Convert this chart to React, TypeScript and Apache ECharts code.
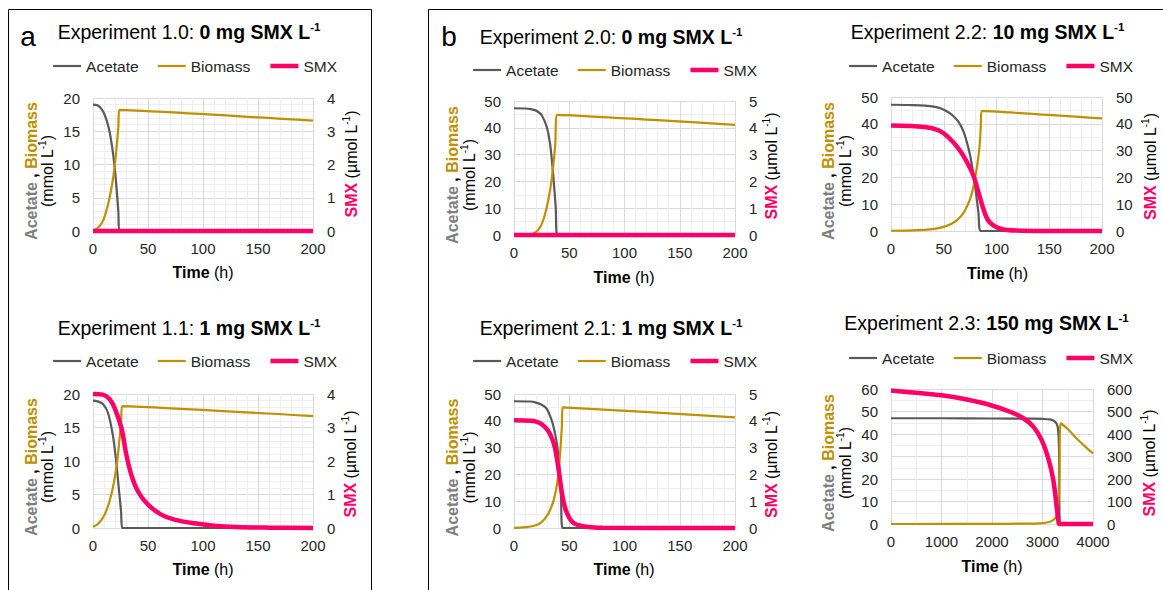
import React, { useEffect, useRef } from "react";
import * as echarts from "echarts";

const FONT = "'Liberation Sans', Arial, Helvetica, sans-serif";
const C_ACET = "#595959";
const C_BIO = "#BF9000";
const C_SMX = "#FF0066";
const TXT = "#262626";

const seriesNames = ["Acetate", "Biomass", "SMX"];

// ---------- Experiment 1.0 : 0 mg SMX/L ----------
const e10AcetateT = [0, 4, 8, 11, 14, 16.5, 18.5, 20, 21.5, 23, 24, 200];
const e10Acetate = [19.0, 18.9, 18.3, 17.3, 15.7, 13.6, 11.3, 9.1, 6.3, 3.0, 0, 0];
const e10BiomassT = [0, 4, 8, 11, 14, 16.5, 18.5, 20, 21.5, 23, 24, 200];
const e10Biomass = [0.1, 0.4, 1.2, 2.4, 4.2, 6.2, 8.2, 10.2, 12.7, 15.5, 18.2, 16.6];
const e10SmxT = [0, 200];
const e10Smx = [0, 0];

// ---------- Experiment 1.1 : 1 mg SMX/L ----------
const e11AcetateT = [0, 4, 9, 13.6, 18, 21, 24, 25.5, 26.7, 200];
const e11Acetate = [19.0, 18.9, 18.5, 17.2, 13.9, 10.0, 5.0, 2.5, 0, 0];
const e11BiomassT = [0, 4.5, 10.6, 16.7, 21.2, 24.2, 25.5, 26.7, 200];
const e11Biomass = [0.2, 0.6, 2.0, 5.0, 9.0, 13.4, 15.8, 18.2, 16.7];
const e11SmxT = [0, 9, 15, 19.7, 25.8, 30.3, 34.8, 40.9, 50, 62, 74, 92, 110, 130, 160, 200];
const e11Smx = [4.0, 3.98, 3.85, 3.58, 2.99, 2.19, 1.59, 1.09, 0.7, 0.4, 0.25, 0.14, 0.07, 0.03, 0.01, 0];

// ---------- Experiment 2.0 : 0 mg SMX/L ----------
const e20AcetateT = [0, 10, 15, 19, 22, 25, 29.6, 32.6, 35.6, 37.7, 39.2, 200];
const e20Acetate = [47.3, 47.2, 47.0, 46.6, 45.9, 44.8, 40.4, 34.2, 21.8, 10.6, 0, 0];
const e20BiomassT = [0, 10, 16, 22, 26.5, 31, 34, 37.2, 39.2, 200];
const e20Biomass = [0, 0.02, 0.3, 1.9, 5.6, 13, 20.5, 33, 44.8, 41.1];
const e20SmxT = [0, 200];
const e20Smx = [0, 0];

// ---------- Experiment 2.1 : 1 mg SMX/L ----------
const e21AcetateT = [0, 15, 20, 25, 29, 32, 35, 37, 39, 41, 42.5, 44, 200];
const e21Acetate = [47.3, 47.2, 46.8, 46.0, 44.8, 42.5, 39.0, 35.5, 31.0, 23.0, 12.0, 0, 0];
const e21BiomassT = [0, 10, 20, 25, 30, 33, 36, 39, 41, 43.3, 44, 200];
const e21Biomass = [0.05, 0.3, 1.0, 2.2, 4.6, 7.0, 10.5, 16.5, 24.0, 37.8, 45.0, 41.3];
const e21SmxT = [0, 15, 20, 25, 29, 32, 35, 37, 39, 41, 43, 45, 47, 50, 53, 57, 62, 70, 80, 200];
const e21Smx = [4.02, 4.0, 3.97, 3.88, 3.72, 3.55, 3.28, 3.0, 2.55, 2.0, 1.4, 0.95, 0.65, 0.38, 0.22, 0.12, 0.07, 0.03, 0.01, 0];

// ---------- Experiment 2.2 : 10 mg SMX/L ----------
const e22AcetateT = [0, 20, 32, 41.7, 48, 54, 59, 64, 67, 70, 75, 79.6, 82.8, 85.3, 200];
const e22Acetate = [47.1, 47.0, 46.8, 46.3, 45.6, 44.4, 42.9, 40.7, 38.6, 35.7, 28.2, 17.0, 7.1, 0, 0];
const e22BiomassT = [0, 26, 45, 57.5, 67, 75, 79.6, 83.4, 85, 86, 200];
const e22Biomass = [0.1, 0.3, 1.1, 2.7, 5.8, 12.0, 19.5, 29.5, 38.0, 44.8, 42.0];
const e22SmxT = [0, 32, 45, 54, 64, 72, 78, 82.8, 87.5, 92, 97, 103, 110, 125, 150, 200];
const e22Smx = [39.4, 38.8, 37.6, 35.1, 30.7, 25.7, 20.8, 14.6, 8.3, 4.0, 2.1, 1.0, 0.4, 0.1, 0, 0];

// ---------- Experiment 2.3 : 150 mg SMX/L ----------
const e23AcetateT = [0, 1000, 2000, 2800, 3000, 3148, 3247, 3300, 3326, 3346, 4000];
const e23Acetate = [47.0, 47.0, 46.9, 46.8, 46.7, 46.5, 45.5, 43.3, 34.0, 0, 0];
const e23BiomassT = [0, 2000, 2600, 2950, 3148, 3247, 3300, 3333, 3360, 3500, 3676, 3850, 4000];
const e23Biomass = [0, 0.05, 0.15, 0.3, 1.0, 2.5, 5.5, 19.5, 44.7, 42.2, 38.0, 34.3, 31.4];
const e23SmxT = [0, 500, 1000, 1500, 1960, 2356, 2620, 2818, 2983, 3115, 3214, 3280, 3313, 3333, 4000];
const e23Smx = [593, 583, 572, 553, 529, 499, 470, 433, 373, 292, 195, 77, 18, 0, 0];

const zip = (t: number[], v: number[]) => t.map((x, i) => [x, v[i]]);

type Panel = {
  label: string;
  bold: string;
  grid: { left: number; top: number; width: number; height: number };
  x: [number, number, number];
  yl: [number, number, number];
  yr: [number, number];
  acetate: number[][];
  biomass: number[][];
  smx: number[][];
  titleX: number;
  titleY: number;
  legendLeft: number;
  legendY: number;
  yn1X: number;
  yn2X: number;
  ynY: number;
  rnX: number;
  rnY: number;
  timeX: number;
  timeY: number;
};

const panels: Panel[] = [
  {
    label: "Experiment 1.0:", bold: "0 mg SMX L",
    grid: { left: 93, top: 98, width: 220, height: 133 },
    x: [200, 50, 5], yl: [20, 5, 5], yr: [4, 1],
    acetate: zip(e10AcetateT, e10Acetate), biomass: zip(e10BiomassT, e10Biomass), smx: zip(e10SmxT, e10Smx),
    titleX: 189, titleY: 31.5, legendLeft: 52, legendY: 67,
    yn1X: 31, yn2X: 47.5, ynY: 171, rnX: 351, rnY: 164, timeX: 203, timeY: 272,
  },
  {
    label: "Experiment 1.1:", bold: "1 mg SMX L",
    grid: { left: 93, top: 394, width: 220, height: 134 },
    x: [200, 50, 5], yl: [20, 5, 5], yr: [4, 1],
    acetate: zip(e11AcetateT, e11Acetate), biomass: zip(e11BiomassT, e11Biomass), smx: zip(e11SmxT, e11Smx),
    titleX: 189, titleY: 327.5, legendLeft: 52, legendY: 362,
    yn1X: 31, yn2X: 47.5, ynY: 467, rnX: 350, rnY: 464, timeX: 203, timeY: 569,
  },
  {
    label: "Experiment 2.0:", bold: "0 mg SMX L",
    grid: { left: 514, top: 101, width: 221, height: 134 },
    x: [200, 50, 5], yl: [50, 10, 2], yr: [5, 1],
    acetate: zip(e20AcetateT, e20Acetate), biomass: zip(e20BiomassT, e20Biomass), smx: zip(e20SmxT, e20Smx),
    titleX: 611, titleY: 36.5, legendLeft: 472, legendY: 71,
    yn1X: 452.5, yn2X: 469, ynY: 175, rnX: 771.5, rnY: 166, timeX: 624, timeY: 277,
  },
  {
    label: "Experiment 2.1:", bold: "1 mg SMX L",
    grid: { left: 514, top: 394, width: 221, height: 134 },
    x: [200, 50, 5], yl: [50, 10, 2], yr: [5, 1],
    acetate: zip(e21AcetateT, e21Acetate), biomass: zip(e21BiomassT, e21Biomass), smx: zip(e21SmxT, e21Smx),
    titleX: 611, titleY: 327.5, legendLeft: 472, legendY: 362,
    yn1X: 452.5, yn2X: 469, ynY: 467.5, rnX: 771, rnY: 464.5, timeX: 624, timeY: 569,
  },
  {
    label: "Experiment 2.2:", bold: "10 mg SMX L",
    grid: { left: 891, top: 97, width: 211, height: 134 },
    x: [200, 50, 5], yl: [50, 10, 2], yr: [50, 10],
    acetate: zip(e22AcetateT, e22Acetate), biomass: zip(e22BiomassT, e22Biomass), smx: zip(e22SmxT, e22Smx),
    titleX: 987.5, titleY: 31.5, legendLeft: 848, legendY: 67,
    yn1X: 828, yn2X: 845.5, ynY: 171, rnX: 1150.5, rnY: 166.5, timeX: 997.5, timeY: 273,
  },
  {
    label: "Experiment 2.3:", bold: "150 mg SMX L",
    grid: { left: 891, top: 389, width: 202, height: 135 },
    x: [4000, 1000, 2], yl: [60, 10, 2], yr: [600, 100],
    acetate: zip(e23AcetateT, e23Acetate), biomass: zip(e23BiomassT, e23Biomass), smx: zip(e23SmxT, e23Smx),
    titleX: 986.5, titleY: 322.5, legendLeft: 848, legendY: 359,
    yn1X: 828, yn2X: 845.5, ynY: 463, rnX: 1149, rnY: 463, timeX: 992, timeY: 566,
  },
];

const tickLabel = {
  fontSize: 15,
  color: TXT,
  fontFamily: FONT,
  formatter: (v: number) => String(v),
};

function buildOption() {
  const grid = panels.map((p) => ({ ...p.grid, containLabel: false }));
  const xAxis = panels.map((p, i) => ({
    type: "value",
    gridIndex: i,
    min: 0,
    max: p.x[0],
    interval: p.x[1],
    axisLine: { show: false },
    axisTick: { show: false },
    axisLabel: { ...tickLabel, margin: 10 },
    splitLine: { show: true, lineStyle: { color: "#d9d9d9", width: 1 } },
    minorTick: { show: false, splitNumber: p.x[2] },
    minorSplitLine: { show: true, lineStyle: { color: "#eeeeee", width: 1 } },
  }));
  const yAxis: any[] = [];
  panels.forEach((p, i) => {
    yAxis.push({
      type: "value",
      gridIndex: i,
      position: "left",
      min: 0,
      max: p.yl[0],
      interval: p.yl[1],
      axisLine: { show: false },
      axisTick: { show: false },
      axisLabel: { ...tickLabel, margin: 13 },
      splitLine: { show: true, lineStyle: { color: "#d9d9d9", width: 1 } },
      minorTick: { show: false, splitNumber: p.yl[2] },
      minorSplitLine: { show: true, lineStyle: { color: "#eeeeee", width: 1 } },
    });
    yAxis.push({
      type: "value",
      gridIndex: i,
      position: "right",
      min: 0,
      max: p.yr[0],
      interval: p.yr[1],
      axisLine: { show: false },
      axisTick: { show: false },
      axisLabel: { ...tickLabel, margin: 14 },
      splitLine: { show: false },
    });
  });
  const series: any[] = [];
  panels.forEach((p, i) => {
    const common = {
      type: "line",
      xAxisIndex: i,
      showSymbol: false,
      symbol: "none",
      smooth: 0.35,
      clip: false,
    };
    series.push({
      ...common, name: "Acetate", yAxisIndex: 2 * i, data: p.acetate,
      color: C_ACET, lineStyle: { color: C_ACET, width: 2.2 },
    });
    series.push({
      ...common, name: "Biomass", yAxisIndex: 2 * i, data: p.biomass,
      color: C_BIO, lineStyle: { color: C_BIO, width: 2.2 },
    });
    series.push({
      ...common, name: "SMX", yAxisIndex: 2 * i + 1, data: p.smx,
      color: C_SMX, lineStyle: { color: C_SMX, width: 4.5 },
    });
  });
  const legendWidths = [2.2, 2.2, 4.5];
  const legendColors = [C_ACET, C_BIO, C_SMX];
  const legend = panels.map((p) => ({
    data: seriesNames.map((n, k) => ({
      name: n,
      lineStyle: { width: legendWidths[k], color: legendColors[k] },
    })),
    left: p.legendLeft,
    top: p.legendY - 9,
    padding: 0,
    itemGap: 18,
    itemWidth: 28,
    itemHeight: 18,
    selectedMode: false,
    itemStyle: { opacity: 0, color: "rgba(0,0,0,0)", borderWidth: 0 },
    textStyle: { fontSize: 15.5, color: TXT, fontFamily: FONT },
  }));

  const base = { fontFamily: FONT, fill: "#000" };
  const graphics: any[] = [
    {
      type: "rect",
      shape: { x: 8.5, y: 9.5, width: 363, height: 700 },
      style: { fill: "none", stroke: "#000", lineWidth: 1 },
      silent: true,
    },
    {
      type: "rect",
      shape: { x: 428.5, y: 9.5, width: 800, height: 700 },
      style: { fill: "none", stroke: "#000", lineWidth: 1 },
      silent: true,
    },
    {
      type: "text", x: 28, y: 36,
      style: { text: "a", fontSize: 28, fontFamily: FONT, fill: "#000", align: "center", verticalAlign: "middle" },
    },
    {
      type: "text", x: 449, y: 36,
      style: { text: "b", fontSize: 28, fontFamily: FONT, fill: "#000", align: "center", verticalAlign: "middle" },
    },
  ];
  panels.forEach((p) => {
    graphics.push({
      type: "text", x: p.titleX, y: p.titleY,
      style: {
        text: `{n|${p.label} }{b|${p.bold}}{s|-1}`,
        align: "center", verticalAlign: "middle",
        rich: {
          n: { ...base, fontSize: 19.5, lineHeight: 22 },
          b: { ...base, fontSize: 19.5, fontWeight: "bold", lineHeight: 22 },
          s: { ...base, fontSize: 11.5, fontWeight: "bold", lineHeight: 16, verticalAlign: "top" },
        },
      },
    });
    graphics.push({
      type: "text", x: p.yn1X, y: p.ynY, rotation: Math.PI / 2,
      style: {
        text: "{a|Acetate}{k| , }{m|Biomass}",
        align: "center", verticalAlign: "middle",
        rich: {
          a: { fontFamily: FONT, fontSize: 16, fontWeight: "bold", fill: "#7f7f7f", lineHeight: 20 },
          k: { fontFamily: FONT, fontSize: 16, fontWeight: "bold", fill: "#000", lineHeight: 20 },
          m: { fontFamily: FONT, fontSize: 16, fontWeight: "bold", fill: C_BIO, lineHeight: 20 },
        },
      },
    });
    graphics.push({
      type: "text", x: p.yn2X, y: p.ynY, rotation: Math.PI / 2,
      style: {
        text: "{n|(mmol L}{s|-1}{n|)}",
        align: "center", verticalAlign: "middle",
        rich: {
          n: { ...base, fontSize: 16, lineHeight: 20 },
          s: { ...base, fontSize: 10, lineHeight: 15, verticalAlign: "top" },
        },
      },
    });
    graphics.push({
      type: "text", x: p.rnX, y: p.rnY, rotation: Math.PI / 2,
      style: {
        text: "{m|SMX}{n| (µmol L}{s|-1}{n|)}",
        align: "center", verticalAlign: "middle",
        rich: {
          m: { fontFamily: FONT, fontSize: 16, fontWeight: "bold", fill: C_SMX, lineHeight: 20 },
          n: { ...base, fontSize: 16, lineHeight: 20 },
          s: { ...base, fontSize: 10, lineHeight: 15, verticalAlign: "top" },
        },
      },
    });
    graphics.push({
      type: "text", x: p.timeX, y: p.timeY,
      style: {
        text: "{b|Time}{n| (h)}",
        align: "center", verticalAlign: "middle",
        rich: {
          b: { ...base, fontSize: 16, fontWeight: "bold", lineHeight: 20 },
          n: { ...base, fontSize: 16, lineHeight: 20 },
        },
      },
    });
  });

  return {
    animation: false,
    backgroundColor: "#ffffff",
    textStyle: { fontFamily: FONT },
    grid,
    xAxis,
    yAxis,
    legend,
    series,
    graphic: graphics,
  };
}

export default function App() {
  const ref = useRef<HTMLDivElement>(null);
  useEffect(() => {
    if (!ref.current) return;
    const chart = echarts.init(ref.current, null, { renderer: "svg" });
    chart.setOption(buildOption() as any);
    return () => chart.dispose();
  }, []);
  return (
    <div
      ref={ref}
      style={{ position: "fixed", left: 0, top: 0, width: 1163, height: 590, background: "#fff" }}
    />
  );
}
